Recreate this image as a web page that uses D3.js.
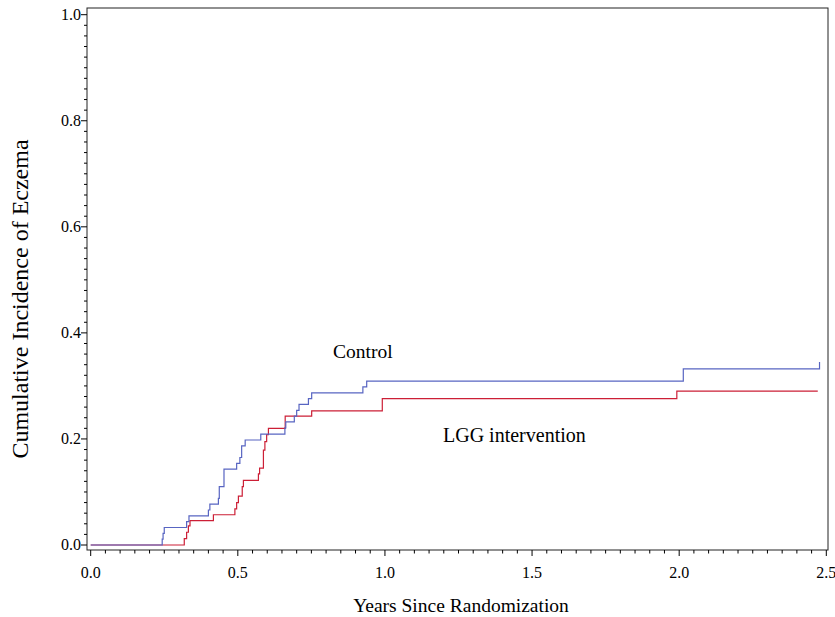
<!DOCTYPE html>
<html>
<head>
<meta charset="utf-8">
<script src="https://cdn.jsdelivr.net/npm/d3@7"></script>
<style>
  body { margin: 0; background: #fff; }
  text { font-family: "Liberation Serif", "Times New Roman", serif; fill: #000; }
</style>
</head>
<body>
<div id="chart"></div>
<script>
// cumulative incidence step functions, [years, incidence]
const controlSteps = [
  [0, 0], [0.243, 0.011], [0.246, 0.022], [0.25, 0.033], [0.326, 0.044], [0.334, 0.055],
  [0.40, 0.066], [0.405, 0.077], [0.434, 0.088], [0.437, 0.110], [0.453, 0.143],
  [0.496, 0.154], [0.507, 0.165], [0.513, 0.187], [0.525, 0.198], [0.578, 0.209],
  [0.660, 0.221], [0.663, 0.232], [0.692, 0.243], [0.700, 0.254], [0.708, 0.265],
  [0.740, 0.276], [0.751, 0.287], [0.925, 0.298], [0.938, 0.309], [2.014, 0.332],
  [2.477, 0.345]
]
const lggSteps = [
  [0, 0], [0.318, 0.012], [0.326, 0.024], [0.332, 0.036], [0.3375, 0.046], [0.417, 0.057],
  [0.490, 0.068], [0.496, 0.080], [0.502, 0.092], [0.515, 0.110], [0.519, 0.122],
  [0.570, 0.134], [0.574, 0.145], [0.587, 0.179], [0.592, 0.195], [0.598, 0.208],
  [0.604, 0.220], [0.661, 0.243], [0.751, 0.253], [0.991, 0.276], [1.992, 0.290],
  [2.471, 0.290]
]
const xTicks = [0, 0.5, 1.0, 1.5, 2.0, 2.5]
const yTicks = [0, 0.2, 0.4, 0.6, 0.8, 1.0]

const width = 835, height = 617
const frame = {left: 87, right: 828, top: 8, bottom: 550}

const x = d3.scaleLinear().domain([0, 2.5]).range([90.7, 826.3])
const y = d3.scaleLinear().domain([0, 1]).range([545, 14.7])

let svg = d3.select("#chart")
  .append("svg")
  .attr("width", width)
  .attr("height", height)

// plot frame
svg.append("rect")
  .attr("x", frame.left)
  .attr("y", frame.top)
  .attr("width", frame.right - frame.left)
  .attr("height", frame.bottom - frame.top)
  .attr("fill", "none")
  .attr("stroke", "#222")
  .attr("stroke-width", 1)

// minor ticks
let g = svg.append("g").attr("stroke", "#000").attr("stroke-width", 1)
g.selectAll(".xminor")
  .data(d3.range(0, 51).map(i => i * 0.05))
  .enter()
  .append("line")
  .attr("x1", d => x(d)).attr("x2", d => x(d))
  .attr("y1", frame.bottom).attr("y2", (d, i) => i % 10 == 0 ? frame.bottom + 6 : frame.bottom + 3.5)
g.selectAll(".yminor")
  .data(d3.range(0, 51).map(i => i * 0.02))
  .enter()
  .append("line")
  .attr("y1", d => y(d)).attr("y2", d => y(d))
  .attr("x1", frame.left).attr("x2", (d, i) => i % 10 == 0 ? frame.left - 6 : frame.left - 3)

// tick labels
svg.selectAll(".xlab")
  .data(xTicks)
  .enter()
  .append("text")
  .attr("x", d => x(d))
  .attr("y", 578)
  .attr("text-anchor", "middle")
  .attr("font-size", 16)
  .text(d => d.toFixed(1))

svg.selectAll(".ylab")
  .data(yTicks)
  .enter()
  .append("text")
  .attr("x", 81)
  .attr("y", d => y(d) + 5)
  .attr("text-anchor", "end")
  .attr("font-size", 16)
  .text(d => d.toFixed(1))

// axis titles
svg.append("text")
  .attr("x", 461)
  .attr("y", 612)
  .attr("text-anchor", "middle")
  .attr("font-size", 19.5)
  .text("Years Since Randomization")

svg.append("text")
  .attr("transform", "translate(28,299) rotate(-90)")
  .attr("text-anchor", "middle")
  .attr("font-size", 24)
  .text("Cumulative Incidence of Eczema")

// curves
let line = d3.line()
  .x(d => x(d[0]))
  .y(d => y(d[1]))
  .curve(d3.curveStepAfter)

svg.append("path")
  .attr("d", line(lggSteps))
  .attr("fill", "none")
  .attr("stroke", "#cc1f36")
  .attr("stroke-width", 1.2)

svg.append("path")
  .attr("d", line(controlSteps))
  .attr("fill", "none")
  .attr("stroke", "#5865c2")
  .attr("stroke-width", 1.2)

// curve labels
svg.append("text")
  .attr("x", 333)
  .attr("y", 358)
  .attr("font-size", 19.5)
  .text("Control")

svg.append("text")
  .attr("x", 443)
  .attr("y", 442)
  .attr("font-size", 20)
  .text("LGG intervention")
</script>
</body>
</html>
